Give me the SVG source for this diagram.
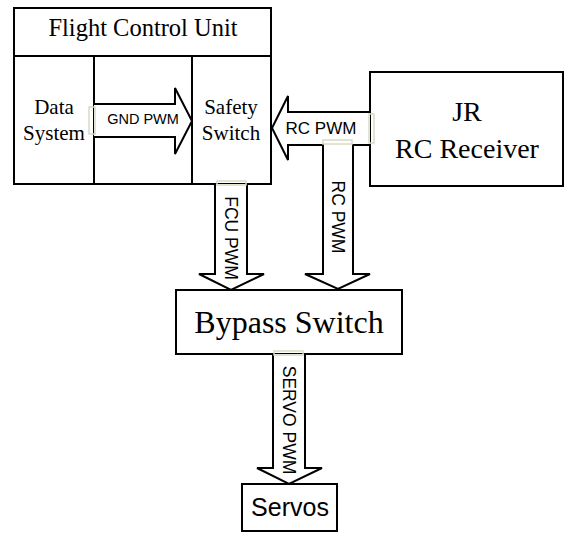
<svg xmlns="http://www.w3.org/2000/svg" width="565" height="533" viewBox="0 0 565 533">
<style>
.box{fill:#fff;stroke:#000;stroke-width:2}
.ln{fill:none;stroke:#000;stroke-width:2;stroke-linejoin:miter}
.fill{fill:#fff;stroke:none}
.tb{fill:none;stroke:#d6dcc2;stroke-width:1.5}
.serif{font-family:"Liberation Serif","Times New Roman",serif;fill:#000}
.sans{font-family:"Liberation Sans",Arial,sans-serif;fill:#000}
</style>
<rect width="565" height="533" fill="#fff"/>
<g id="fcu">
<rect class="box" x="14" y="8" width="257" height="176"/>
<line class="ln" x1="14" y1="56" x2="271" y2="56"/>
<text class="serif" x="143" y="36" font-size="24.5" text-anchor="middle">Flight Control Unit</text>
</g>
<g id="data-system">
<rect class="box" x="14" y="56" width="80" height="128"/>
<text class="serif" x="54" y="114" font-size="21" text-anchor="middle">Data</text>
<text class="serif" x="54" y="140" font-size="21" text-anchor="middle">System</text>
</g>
<g id="safety-switch">
<rect class="box" x="192" y="56" width="79" height="128"/>
<text class="serif" x="231" y="114" font-size="21" text-anchor="middle">Safety</text>
<text class="serif" x="231" y="140" font-size="21" text-anchor="middle">Switch</text>
</g>
<g id="jr-receiver">
<rect class="box" x="370" y="72" width="193" height="114"/>
<text class="serif" x="467" y="121" font-size="28" text-anchor="middle">JR</text>
<text class="serif" x="467" y="158" font-size="28" text-anchor="middle">RC Receiver</text>
</g>
<g id="bypass-switch">
<rect class="box" x="176" y="290" width="226" height="64"/>
<text class="serif" x="289" y="333" font-size="32" text-anchor="middle">Bypass Switch</text>
</g>
<g id="servos">
<rect class="box" x="242" y="484" width="95" height="47"/>
<text class="sans" x="290" y="516" font-size="25" text-anchor="middle">Servos</text>
</g>
<g id="connectors">
<g id="gnd-pwm">
<polygon class="fill" points="94,104 175,104 175,88 192,121 175,154 175,137 94,137"/>
<polyline class="ln" points="94,104 175,104 175,88 192,121 175,154 175,137 94,137"/>
<rect class="tb" x="89" y="107" width="6" height="27"/>
<text class="sans" x="143" y="124" font-size="14.5" text-anchor="middle">GND PWM</text>
</g>
<g id="rc-pwm">
<polygon class="fill" points="370,112 288,112 288,96 272,128 288,160 288,145 323,145 323,274 305,274 338,289 370,274 353,274 353,145 370,145"/>
<polyline class="ln" points="370,112 288,112 288,96 272,128 288,160 288,145 323,145 323,274 305,274 338,289 370,274 353,274 353,145 370,145"/>
<rect class="tb" x="369" y="114" width="5" height="29"/>
<rect class="tb" x="323" y="140" width="29" height="4"/>
<text class="sans" x="321" y="134" font-size="17" text-anchor="middle">RC PWM</text>
<text class="sans" font-size="17.5" text-anchor="middle" transform="translate(332,217) rotate(90)">RC PWM</text>
</g>
<g id="fcu-pwm">
<polygon class="fill" points="215,184 215,274 199,274 231,290 264,274 247,274 247,184"/>
<polyline class="ln" points="215,184 215,274 199,274 231,290 264,274 247,274 247,184"/>
<rect class="tb" x="217" y="181" width="29" height="4"/>
<text class="sans" font-size="17.5" text-anchor="middle" transform="translate(225,238) rotate(90)">FCU PWM</text>
</g>
<g id="servo-pwm">
<polygon class="fill" points="273,354 273,468 257,468 289,484 322,468 305,468 305,354"/>
<polyline class="ln" points="273,354 273,468 257,468 289,484 322,468 305,468 305,354"/>
<rect class="tb" x="274" y="351" width="29" height="4"/>
<text class="sans" font-size="17.5" text-anchor="middle" transform="translate(283,420) rotate(90)">SERVO PWM</text>
</g>
</g>
</svg>
